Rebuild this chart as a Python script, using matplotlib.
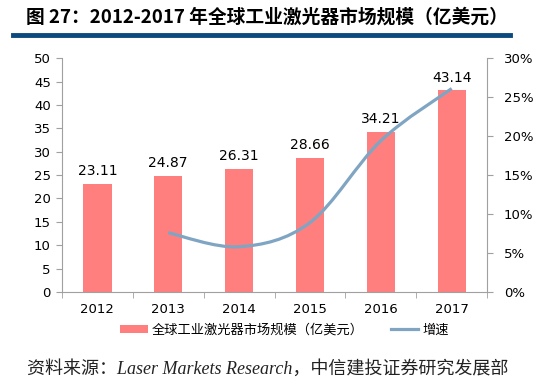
import numpy as np
import matplotlib
matplotlib.use("Agg")
from matplotlib import pyplot as plt
from matplotlib.path import Path
from matplotlib.patches import PathPatch
from matplotlib.lines import Line2D
from matplotlib.patches import Patch

plt.rcParams['font.family'] = ['DejaVu Sans', 'Noto Sans CJK SC']

years = ['2012', '2013', '2014', '2015', '2016', '2017']
market_size = [23.11, 24.87, 26.31, 28.66, 34.21, 43.14]
growth_years = ['2013', '2014', '2015', '2016', '2017']
growth = [0.076, 0.058, 0.089, 0.194, 0.261]

bar_color = '#FF7F7F'
line_color = '#7FA5C3'
axis_gray = '#A0A0A0'


def smooth_path(xs, ys, k=1 / 6):
    # Excel-style smoothed line: Catmull-Rom converted to cubic Bezier segments
    pts = list(zip(xs, ys))
    verts = [pts[0]]
    codes = [Path.MOVETO]
    for i in range(len(pts) - 1):
        p0 = pts[i - 1] if i > 0 else pts[i]
        p1 = pts[i]
        p2 = pts[i + 1]
        p3 = pts[i + 2] if i + 2 < len(pts) else pts[i + 1]
        c1 = (p1[0] + (p2[0] - p0[0]) * k, p1[1] + (p2[1] - p0[1]) * k)
        c2 = (p2[0] - (p3[0] - p1[0]) * k, p2[1] - (p3[1] - p1[1]) * k)
        verts += [c1, c2, p2]
        codes += [Path.CURVE4] * 3
    return Path(verts, codes)


fig = plt.figure(figsize=(5.58, 3.85), dpi=100)
ax = fig.add_axes([0.111, 0.2416, 0.762, 0.6074])

x = np.arange(len(years))
ax.bar(x, market_size, width=0.4, color=bar_color, zorder=2)
for xi, v in zip(x, market_size):
    ax.text(xi, v + 1.2, '%.2f' % v, ha='center', va='bottom', fontsize=10, color='#000000')

ax.set_xlim(-0.5, len(years) - 0.5)
ax.set_ylim(0, 50)
ax.set_yticks(np.arange(0, 51, 5))
ax.set_xticks(x)
ax.set_xticklabels(years)
ax.set_xticks(np.arange(-0.5, len(years), 1), minor=True)
ax.tick_params(axis='x', which='major', length=0, pad=8, labelsize=9.5)
ax.tick_params(axis='x', which='minor', length=4, color=axis_gray)
ax.tick_params(axis='y', length=4, color=axis_gray, labelsize=9.5, pad=4)
for s in ['top', 'right']:
    ax.spines[s].set_visible(False)
for s in ['left', 'bottom']:
    ax.spines[s].set_color(axis_gray)

ax2 = ax.twinx()
ax2.set_ylim(0, 0.30)
ax2.set_yticks(np.arange(0, 0.31, 0.05))
ax2.set_yticklabels(['%d%%' % round(t * 100) for t in np.arange(0, 0.31, 0.05)])
ax2.tick_params(axis='y', length=4, color=axis_gray, labelsize=9.5, pad=8)
for s in ['top', 'left', 'bottom']:
    ax2.spines[s].set_visible(False)
ax2.spines['right'].set_color(axis_gray)

gx = [years.index(y) for y in growth_years]
ax2.add_patch(PathPatch(smooth_path(gx, growth), facecolor='none',
                        edgecolor=line_color, lw=2.3, zorder=3))

handles = [Patch(facecolor=bar_color, edgecolor='none'),
           Line2D([], [], color=line_color, lw=2.3)]
labels = ['全球工业激光器市场规模（亿美元）', '增速']
fig.legend(handles, labels, loc='center', bbox_to_anchor=(0.51, 0.143), ncol=2,
           frameon=False, handlelength=2.1, handleheight=0.6,
           columnspacing=2.0, handletextpad=0.3,
           prop={'family': ['Noto Sans CJK SC', 'DejaVu Sans'], 'size': 9.5})

fig.text(0.047, 0.955, '图 27：2012-2017 年全球工业激光器市场规模（亿美元）',
         fontsize=13.5, fontweight='bold', va='center',
         family=['Noto Sans CJK SC', 'DejaVu Sans'])
fig.add_artist(Line2D([0.024, 0.914], [0.909, 0.909], color='#0B4A7E', lw=3.5,
                      transform=fig.transFigure))

fig.text(0.048, 0.042, '资料来源：Laser Markets Research，中信建投证券研究发展部',
         fontsize=13, style='italic', va='center', color='#222222',
         family=['Liberation Serif', 'Noto Sans CJK SC'])

fig.savefig('out.png', dpi=100)
